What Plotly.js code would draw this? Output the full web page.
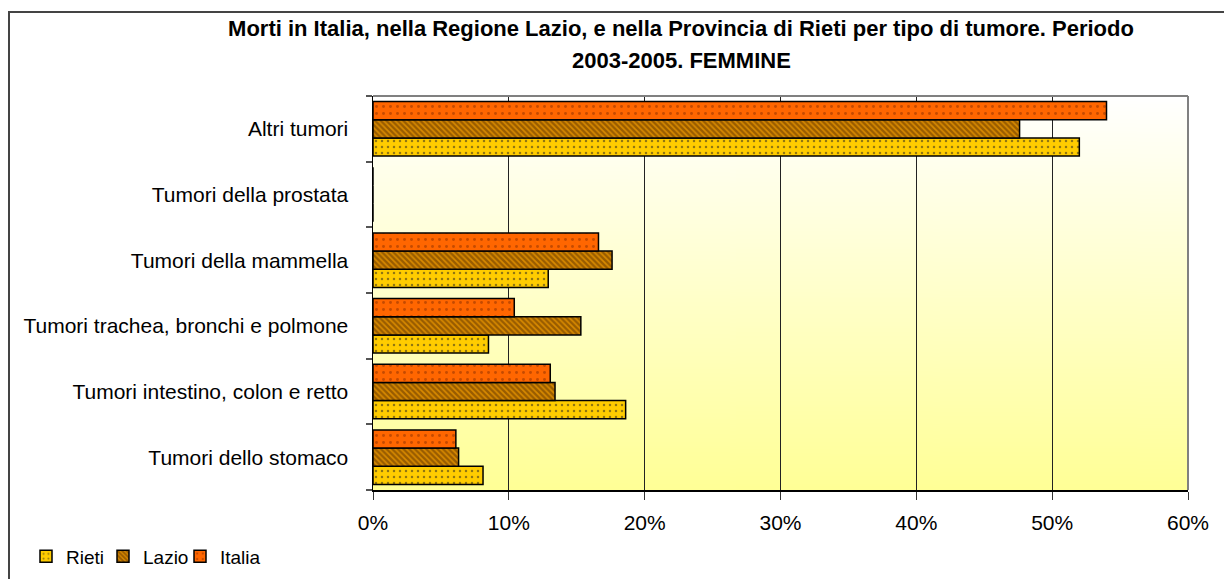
<!DOCTYPE html>
<html>
<head>
<meta charset="utf-8">
<script src="https://cdn.plot.ly/plotly-3.0.1.min.js"></script>
<style>
html,body{margin:0;padding:0;background:#fff;}
#chart{width:1224px;height:579px;}
</style>
</head>
<body>
<div id="chart"></div>
<script>
// ---- data ----
const categories = [
  'Tumori dello stomaco',
  'Tumori intestino, colon e retto',
  'Tumori trachea, bronchi e polmone',
  'Tumori della mammella',
  'Tumori della prostata',
  'Altri tumori'
];
const rieti  = [0.081, 0.186, 0.085, 0.129, 0, 0.520];
const lazio  = [0.063, 0.134, 0.153, 0.176, 0, 0.476];
const italia = [0.061, 0.1305, 0.104, 0.166, 0, 0.540];
const seriesNames = ['Rieti', 'Lazio', 'Italia'];
const titleLine1 = 'Morti in Italia, nella Regione Lazio, e nella Provincia di Rieti per tipo di tumore. Periodo';
const titleLine2 = '2003-2005. FEMMINE';

// ---- geometry ----
const W = 1224, H = 579;
const ml = 373, mr = 36, mt = 96, mb = 88.5;
const pw = W - ml - mr, ph = H - mt - mb;
const px2x = p => (p - ml) / pw;
const px2y = p => (H - mb - p) / ph;

// gradient background image
const cv = document.createElement('canvas');
cv.width = 8; cv.height = 400;
const ctx = cv.getContext('2d');
const g = ctx.createLinearGradient(0, 0, 0, 400);
g.addColorStop(0, '#FFFFFF');
g.addColorStop(1, '#FFFF96');
ctx.fillStyle = g;
ctx.fillRect(0, 0, 8, 400);
const bgURL = cv.toDataURL('image/png');

const font = 'Liberation Sans, Arial, sans-serif';
const line = {color: '#000', width: 1.5};

const traces = [
  {type: 'bar', orientation: 'h', name: seriesNames[0], y: categories, x: rieti,
   marker: {color: '#FFCC00', line: line,
            pattern: {shape: '.', bgcolor: '#FFCC00', fgcolor: '#222', size: 6, solidity: 0.14, fillmode: 'overlay'}}},
  {type: 'bar', orientation: 'h', name: seriesNames[1], y: categories, x: lazio,
   marker: {color: '#B06A00', line: line,
            pattern: {shape: '\\', bgcolor: '#D88A00', fgcolor: '#5A2E00', size: 4, solidity: 0.6, fillmode: 'overlay'}}},
  {type: 'bar', orientation: 'h', name: seriesNames[2], y: categories, x: italia,
   marker: {color: '#FF6600', line: line,
            pattern: {shape: '.', bgcolor: '#FF6600', fgcolor: '#8B2E00', size: 7, solidity: 0.14, fillmode: 'overlay'}}}
];

const layout = {
  width: W, height: H,
  margin: {l: ml, r: mr, t: mt, b: mb, pad: 0, autoexpand: false},
  paper_bgcolor: '#FFFFFF',
  plot_bgcolor: 'rgba(0,0,0,0)',
  font: {family: font, size: 20, color: '#000'},
  barmode: 'group',
  bargap: 0.17,
  bargroupgap: 0,
  title: {
    text: '<b>' + titleLine1 + '</b>',
    font: {family: font, size: 22, color: '#000'},
    x: 681 / W, xanchor: 'center', xref: 'container',
    y: 1 - 21 / H, yanchor: 'top', yref: 'container'
  },
  annotations: [{
    text: '<b>' + titleLine2 + '</b>',
    xref: 'paper', yref: 'paper',
    x: px2x(681), y: px2y(60), xanchor: 'center', yanchor: 'middle',
    showarrow: false, font: {family: font, size: 22, color: '#000'}
  }],
  xaxis: {
    range: [0, 0.6], dtick: 0.1, tick0: 0, tickformat: '.0%',
    showgrid: true, gridcolor: '#222', gridwidth: 1,
    zeroline: false,
    showline: true, linecolor: '#000', linewidth: 1.5,
    ticks: 'outside', ticklen: 8, tickcolor: '#333', tickwidth: 1,
    ticklabelstandoff: 5,
    tickfont: {family: font, size: 21, color: '#000'},
    fixedrange: true
  },
  yaxis: {
    type: 'category',
    categoryorder: 'array', categoryarray: categories,
    showline: true, linecolor: '#000', linewidth: 1.5,
    ticks: 'outside', ticklen: 6, tickcolor: '#555', tickwidth: 2,
    tickson: 'boundaries',
    showgrid: false,
    ticklabelstandoff: 19,
    tickfont: {family: font, size: 21, color: '#000'},
    fixedrange: true
  },
  legend: {
    orientation: 'h',
    x: px2x(26), xanchor: 'left',
    y: px2y(557), yanchor: 'middle',
    font: {family: font, size: 19, color: '#000'},
    bgcolor: 'rgba(0,0,0,0)',
    itemwidth: 30,
    entrywidth: 32, entrywidthmode: 'pixels',
    traceorder: 'normal'
  },
  images: [{
    source: bgURL, xref: 'paper', yref: 'paper',
    x: 0, y: 1, sizex: 1, sizey: 1, xanchor: 'left', yanchor: 'top',
    sizing: 'stretch', layer: 'below'
  }],
  shapes: [
    {type: 'rect', xref: 'paper', yref: 'paper', layer: 'above',
     x0: px2x(9), x1: px2x(1240), y0: px2y(600), y1: px2y(12),
     line: {color: '#444', width: 2}, fillcolor: 'rgba(0,0,0,0)'},
    {type: 'line', xref: 'paper', yref: 'paper', layer: 'above',
     x0: 0, x1: 1, y0: 1, y1: 1, line: {color: '#808080', width: 2}},
    {type: 'line', xref: 'paper', yref: 'paper', layer: 'above',
     x0: 1, x1: 1, y0: 0, y1: 1, line: {color: '#808080', width: 2}}
  ],
  showlegend: true
};

Plotly.newPlot('chart', traces, layout, {displayModeBar: false, staticPlot: true}).then(gd => {
  // let the last legend label show in full (fixed entry widths would clip it)
  gd.querySelectorAll('.legend .scrollbox').forEach(el => el.removeAttribute('clip-path'));
});
</script>
</body>
</html>
